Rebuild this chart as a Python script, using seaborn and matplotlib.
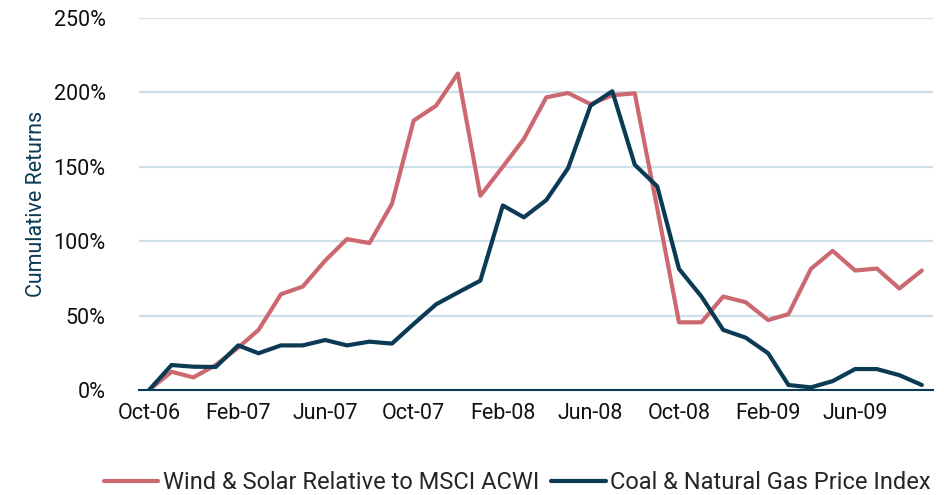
import numpy as np
import pandas as pd
import seaborn as sns
import matplotlib.pyplot as plt
import matplotlib.dates as mdates
from matplotlib.ticker import FuncFormatter

# monthly data, Oct-06 .. Sep-09
months = pd.date_range("2006-10-01", periods=36, freq="MS")

wind_solar = [0, 12.3, 8.5, 16.8, 28.5, 40.4, 64.4, 69.5, 87, 101.4,
              98.7, 125, 181, 191, 212.6, 130.5, 150, 168.6, 196.6, 199.5,
              192, 198, 199.3, 122, 45.5, 45.5, 62.8, 59, 47, 51,
              81.4, 93.5, 80.3, 81.6, 68.2, 80.3]
coal_gas = [0, 16.8, 15.7, 15.5, 30, 24.7, 30, 30, 33.6, 30,
            32.5, 31.2, 44.4, 57.6, 65.5, 73.5, 124, 116, 127.6, 149,
            191, 200.7, 151.3, 136.8, 81.4, 62.8, 40.4, 35.2, 24.7, 3.4,
            1.8, 6, 14.1, 14.1, 10, 3.4]

series_names = ["Wind & Solar Relative to MSCI ACWI", "Coal & Natural Gas Price Index"]
colors = ["#cc6870", "#0b3a55"]
tick_months = ["2006-10", "2007-02", "2007-06", "2007-10", "2008-02",
               "2008-06", "2008-10", "2009-02", "2009-06"]
y_ticks = [0, 50, 100, 150, 200, 250]

df = pd.concat([
    pd.DataFrame({"month": months, "value": wind_solar, "series": series_names[0]}),
    pd.DataFrame({"month": months, "value": coal_gas, "series": series_names[1]}),
])

sns.set_style("white")
plt.rcParams["font.family"] = ["Roboto", "DejaVu Sans"]

fig = plt.figure(figsize=(9.45, 4.95), dpi=100)
ax = fig.add_axes([0.147, 0.212, 0.84, 0.752])

sns.lineplot(data=df, x="month", y="value", hue="series", palette=colors,
             linewidth=3, ax=ax, legend=True)

ax.set_ylim(0, 250)
ax.set_yticks(y_ticks)
ax.yaxis.set_major_formatter(FuncFormatter(lambda v, p: "%d%%" % v))
ax.set_xlim(pd.Timestamp("2006-09-17"), pd.Timestamp("2009-09-16"))
ax.set_xticks(pd.to_datetime(tick_months))
ax.xaxis.set_major_formatter(mdates.DateFormatter("%b-%y"))

ax.grid(axis="y", color="#cfe0ea", linewidth=1.6)
ax.set_axisbelow(True)
for s in ["top", "right", "left"]:
    ax.spines[s].set_visible(False)
ax.spines["bottom"].set_color("#0b3a55")
ax.spines["bottom"].set_linewidth(1.5)
ax.tick_params(axis="both", length=0, labelsize=15.5, colors="#111111")
ax.tick_params(axis="x", pad=9)
ax.tick_params(axis="y", pad=24)

ax.set_xlabel("")
ax.set_ylabel("Cumulative Returns", fontsize=15.5, color="#0b3a55", labelpad=5)

ax.legend(loc="upper center", bbox_to_anchor=(0.477, -0.16), ncol=2, frameon=False,
          fontsize=17, handlelength=2.3, columnspacing=0.5, handletextpad=0.2)

fig.savefig("out.png", dpi=100)
